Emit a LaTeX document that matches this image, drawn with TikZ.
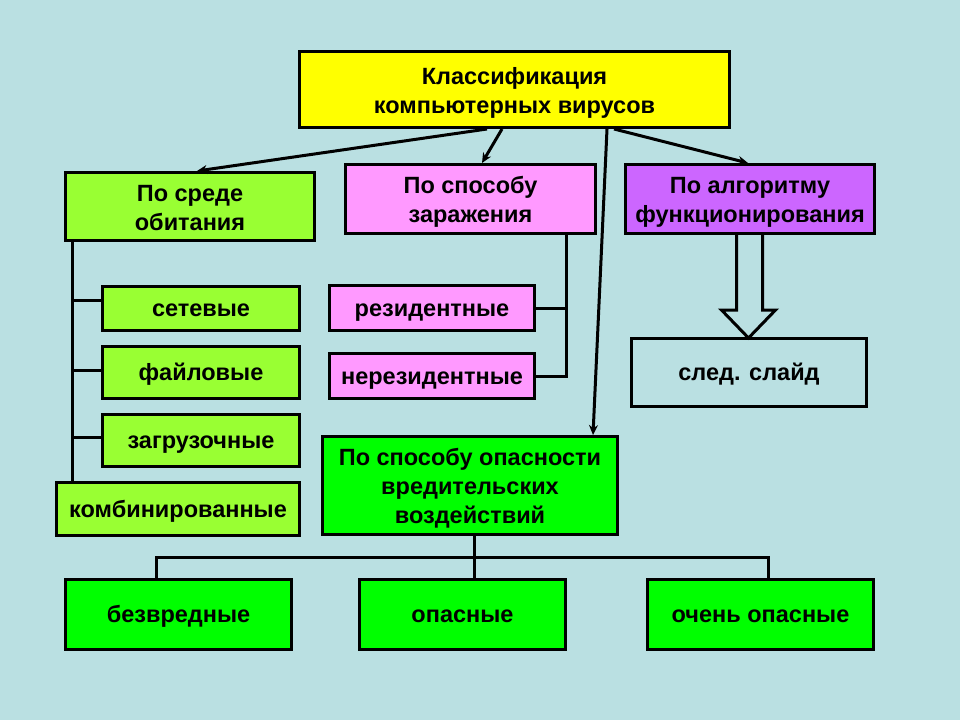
\documentclass[tikz,border=0pt]{standalone}
\usepackage{fontspec}
\setmainfont{Liberation Sans}
\usetikzlibrary{arrows.meta,calc}
\definecolor{bg}{RGB}{186,224,226}
\definecolor{cyel}{RGB}{255,255,0}
\definecolor{clgreen}{RGB}{153,255,51}
\definecolor{cpink}{RGB}{255,153,255}
\definecolor{cpurple}{RGB}{204,102,255}
\definecolor{cgreen}{RGB}{0,255,0}
\newcommand\myfirst{\rule{0pt}{24pt}}
\newcommand\mylast{\rule[-6pt]{0pt}{0pt}}
\begin{document}
\begin{tikzpicture}[x=1pt,y=-1pt,
  box/.style={draw=black, line width=3pt, anchor=north west, inner sep=1pt,
    align=center, font=\fontsize{23.5}{29}\selectfont\bfseries, text=black},
  onebox/.style={box, text height=20pt, text depth=4pt},
  conn/.style={line width=3pt, draw=black},
  arr/.style={conn, -{Stealth[length=10pt,width=9pt]}}]
\fill[bg] (0,0) rectangle (960,720);
\useasboundingbox (0,0) rectangle (960,720);

\node[box, fill=cyel, minimum width=430pt, minimum height=76pt] (top) at (298,50)
  {\myfirst Классификация\\компьютерных вирусов\mylast};
\node[box, fill=clgreen, minimum width=249pt, minimum height=68pt] (green1) at (64,171)
  {\myfirst По среде\\обитания\mylast};
\node[box, fill=cpink, minimum width=250pt, minimum height=69pt] (pink) at (344,163)
  {\myfirst По способу\\заражения\mylast};
\node[box, fill=cpurple, minimum width=249pt, minimum height=69pt] (alg) at (624,163)
  {\myfirst По алгоритму\\функционирования\mylast};

\node[onebox, fill=clgreen, minimum width=197pt, minimum height=44pt] (setev) at (101,285) {сетевые};
\node[onebox, fill=clgreen, minimum width=197pt, minimum height=52pt] (fail) at (101,345) {файловые};
\node[onebox, fill=clgreen, minimum width=197pt, minimum height=52pt] (zagr) at (101,413) {загрузочные};
\node[onebox, fill=clgreen, minimum width=243pt, minimum height=53pt] (komb) at (55,481) {комбинированные};

\node[onebox, fill=cpink, minimum width=205pt, minimum height=45pt] (rez) at (328,284) {резидентные};
\node[onebox, fill=cpink, minimum width=205pt, minimum height=45pt] (nerez) at (328,352) {нерезидентные};

\node[onebox, fill=bg, minimum width=235pt, minimum height=68pt] (sled) at (630,337) {след. слайд};

\node[box, fill=cgreen, minimum width=295pt, minimum height=98pt] (opas) at (321,435)
  {\myfirst По способу опасности\\вредительских\\воздействий\mylast};

\node[onebox, fill=cgreen, minimum width=226pt, minimum height=70pt] (bez) at (64,578) {безвредные};
\node[onebox, fill=cgreen, minimum width=206pt, minimum height=70pt] (op) at (358,578) {опасные};
\node[onebox, fill=cgreen, minimum width=226pt, minimum height=70pt] (vop) at (646,578) {очень опасные};

% arrows from the title
\draw[arr] ([xshift=189pt]top.south west) -- ([xshift=133pt]green1.north west);
\draw[arr] ([xshift=204pt]top.south west) -- ([xshift=138pt]pink.north west);
\draw[arr] ([xshift=309pt]top.south west) -- ([xshift=272pt]opas.north west);
\draw[arr] ([xshift=316pt]top.south west) -- ([xshift=124pt]alg.north west);

% habitat tree
\draw[conn] ([xshift=8pt]green1.south west) -- ([xshift=17pt]komb.north west);
\draw[conn] ([xshift=8pt,yshift=8pt]green1.south west |- setev.west) -- ([yshift=8pt]setev.west);
\draw[conn] ([xshift=8pt,yshift=2pt]green1.south west |- fail.west) -- ([yshift=2pt]fail.west);
\draw[conn] ([xshift=8pt,yshift=3pt]green1.south west |- zagr.west) -- ([yshift=3pt]zagr.west);

% infection tree
\draw[conn] ([xshift=-31pt]pink.south east) |- (nerez.east);
\draw[conn] (rez.east) -- ([xshift=-31pt]pink.south east |- rez.east);

% hollow arrow
\draw[line width=3pt, fill=bg, line join=miter]
  ([xshift=-13.5pt]alg.south) -- ++(0,75) -- ++(-15,0) -- ++(27,28) -- ++(27,-28)
  -- ++(-13,0) -- ([xshift=12.5pt]alg.south);

% danger tree
\draw[conn] ([xshift=4.5pt]opas.south) -- ([xshift=12pt]op.north);
\draw[conn] ([xshift=-22pt]bez.north) -- ++(0,-21) -| ([xshift=8pt]vop.north);
\end{tikzpicture}
\end{document}
